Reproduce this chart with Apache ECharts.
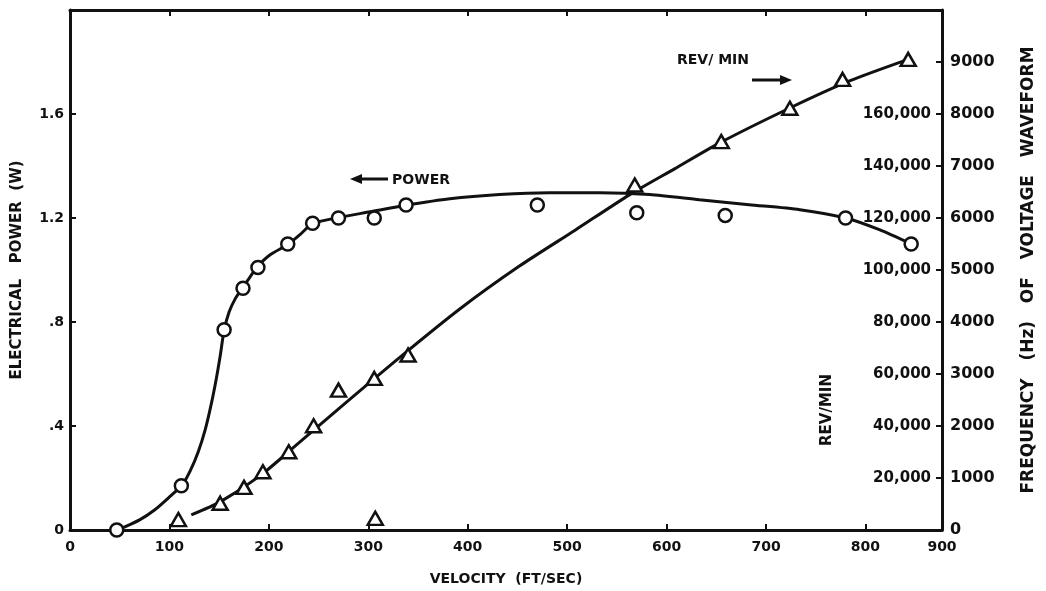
<!DOCTYPE html>
<html>
<head>
<meta charset="utf-8">
<script src="https://cdn.jsdelivr.net/npm/echarts@6/dist/echarts.min.js"></script>
<style>
  html, body { margin: 0; padding: 0; background: #ffffff; }
  #chart { width: 1046px; height: 591px; }
</style>
</head>
<body>
<div id="chart"></div>
<script>
// Measured electrical power (W) against air velocity (ft/sec) — circles
const powerVelocity = [47, 112, 155, 174, 189, 219, 244, 270, 306, 338, 470, 570, 659, 780, 846];
const powerWatts    = [0, 0.17, 0.77, 0.93, 1.01, 1.10, 1.18, 1.20, 1.20, 1.25, 1.25, 1.22, 1.21, 1.20, 1.10];

// Faired curve through the power measurements
const powerFitVelocity = [47, 55, 70, 85, 100, 113, 121, 129, 136, 142, 147, 151, 155, 160, 166, 174, 181, 189, 201, 219,
                          231, 244, 269, 302, 338, 382, 432, 482, 533, 583, 633, 683, 734, 780, 814, 846];
const powerFitWatts    = [0, 0.012, 0.039, 0.077, 0.127, 0.174, 0.228, 0.301, 0.386, 0.483, 0.579, 0.668, 0.768, 0.838, 0.888, 0.934, 0.973, 1.015, 1.058, 1.098,
                          1.135, 1.178, 1.201, 1.224, 1.249, 1.274, 1.290, 1.297, 1.297, 1.290, 1.270, 1.251, 1.232, 1.200, 1.155, 1.10];

// Measured rotor speed (rev/min) against velocity — triangles
const revVelocity = [109, 151, 175, 194, 220, 245, 270, 306, 307, 340, 568, 655, 724, 777, 843];
const revRpm      = [4000, 10300, 16400, 22400, 30100, 40100, 53800, 58300, 4500, 67300, 132700, 149400, 162200, 173300, 181000];

// Faired curve through the speed measurements
const revFitVelocity = [122, 151, 191, 231, 271, 332, 392, 452, 508, 563, 608, 653, 724, 784, 843];
const revFitRpm      = [5800, 10800, 20800, 33800, 46900, 66500, 85000, 101500, 115300, 129000, 138900, 148800, 162300, 172700, 181000];

// Axis ranges and tick labels
const velocityTicks = [0, 100, 200, 300, 400, 500, 600, 700, 800];
const velocityAxisEnd = 877;          // the frame closes here, labelled 900
const velocityEndLabel = '900';
const powerTicks = [0, 0.4, 0.8, 1.2, 1.6];
const powerTickLabels = ['0', '.4', '.8', '1.2', '1.6'];
const rpmTickLabels = [20000, 40000, 60000, 80000, 100000, 120000, 140000, 160000];
const hzTickLabels = [0, 1000, 2000, 3000, 4000, 5000, 6000, 7000, 8000, 9000];

const FONT = '"DejaVu Sans", "Liberation Sans", sans-serif';
const INK = '#111111';

const zip = (xs, ys) => xs.map((x, i) => [x, ys[i]]);
const withCommas = n => String(n).replace(/\B(?=(\d{3})+(?!\d))/g, ',');

const tickStyle = { show: true, inside: true, length: 6, lineStyle: { color: INK, width: 2 } };
const axisLineStyle = { show: true, onZero: false, lineStyle: { color: INK, width: 3 } };

const xAxisCommon = {
  type: 'value',
  min: 0,
  max: velocityAxisEnd,
  interval: 100,
  splitLine: { show: false },
  axisLine: axisLineStyle,
  axisTick: tickStyle
};

const chart = echarts.init(document.getElementById('chart'), null, { renderer: 'canvas' });

chart.setOption({
  animation: false,
  backgroundColor: '#ffffff',
  grid: { left: 70, right: 104, top: 10, bottom: 61 },
  xAxis: [
    Object.assign({}, xAxisCommon, {
      position: 'bottom',
      name: 'VELOCITY  (FT/SEC)',
      nameLocation: 'middle',
      nameGap: 42,
      nameTextStyle: { fontFamily: FONT, fontWeight: 'bold', fontSize: 14, color: INK },
      axisLabel: {
        margin: 10,
        fontFamily: FONT, fontWeight: 'bold', fontSize: 14, color: INK,
        formatter: v => (v >= velocityAxisEnd ? velocityEndLabel : (velocityTicks.includes(v) ? String(v) : ''))
      }
    }),
    Object.assign({}, xAxisCommon, {
      position: 'top',
      axisLabel: { show: false }
    })
  ],
  yAxis: [
    {
      type: 'value',
      position: 'left',
      min: 0, max: 2.0, interval: 0.4,
      name: 'ELECTRICAL   POWER  (W)',
      nameLocation: 'middle',
      nameGap: 45,
      nameTextStyle: { fontFamily: FONT, fontWeight: 'bold', fontSize: 15, color: INK },
      splitLine: { show: false },
      axisLine: axisLineStyle,
      axisTick: tickStyle,
      axisLabel: {
        margin: 6,
        fontFamily: FONT, fontWeight: 'bold', fontSize: 14, color: INK,
        formatter: v => {
          const i = powerTicks.findIndex(t => Math.abs(t - v) < 1e-6);
          return i >= 0 ? powerTickLabels[i] : '';
        }
      }
    },
    {
      type: 'value',
      position: 'right',
      min: 0, max: 200000, interval: 20000,
      splitLine: { show: false },
      axisLine: axisLineStyle,
      axisTick: tickStyle,
      axisLabel: {
        inside: true,
        margin: 11,
        fontFamily: FONT, fontWeight: 'bold', fontSize: 15, color: INK,
        formatter: v => (rpmTickLabels.includes(v) ? withCommas(v) : '')
      }
    },
    {
      type: 'value',
      position: 'right',
      min: 0, max: 10000, interval: 1000,
      name: 'FREQUENCY   (Hz)   OF   VOLTAGE   WAVEFORM',
      nameLocation: 'middle',
      nameGap: 78,
      nameTextStyle: { fontFamily: FONT, fontWeight: 'bold', fontSize: 17, color: INK },
      splitLine: { show: false },
      axisLine: { show: false, onZero: false },
      axisTick: { show: false },
      axisLabel: {
        margin: 8,
        fontFamily: FONT, fontWeight: 'bold', fontSize: 16, color: INK,
        formatter: v => (hzTickLabels.includes(v) ? String(v) : '')
      }
    }
  ],
  graphic: [
    { type: 'text', x: 713, y: 60, style: { text: 'REV/ MIN', align: 'center', verticalAlign: 'middle', font: 'bold 14px ' + FONT, fill: INK } },
    { type: 'line', shape: { x1: 752, y1: 80, x2: 782, y2: 80 }, style: { stroke: INK, lineWidth: 3 } },
    { type: 'polygon', shape: { points: [[792, 80], [780, 75], [780, 85]] }, style: { fill: INK } },
    { type: 'text', x: 421, y: 180, style: { text: 'POWER', align: 'center', verticalAlign: 'middle', font: 'bold 14px ' + FONT, fill: INK } },
    { type: 'line', shape: { x1: 360, y1: 179, x2: 388, y2: 179 }, style: { stroke: INK, lineWidth: 3 } },
    { type: 'polygon', shape: { points: [[350, 179], [362, 174], [362, 184]] }, style: { fill: INK } },
    { type: 'text', x: 827, y: 410, rotation: Math.PI / 2, style: { text: 'REV/MIN', align: 'center', verticalAlign: 'middle', font: 'bold 15px ' + FONT, fill: INK } }
  ],
  series: [
    {
      name: 'Power curve',
      type: 'line',
      xAxisIndex: 0, yAxisIndex: 0,
      data: zip(powerFitVelocity, powerFitWatts),
      smooth: 0.25,
      showSymbol: false, silent: true,
      lineStyle: { color: INK, width: 3 },
      z: 2
    },
    {
      name: 'Rev/min curve',
      type: 'line',
      xAxisIndex: 0, yAxisIndex: 1,
      data: zip(revFitVelocity, revFitRpm),
      smooth: 0.25,
      showSymbol: false, silent: true,
      lineStyle: { color: INK, width: 3 },
      z: 2
    },
    {
      name: 'Power',
      type: 'scatter',
      xAxisIndex: 0, yAxisIndex: 0,
      data: zip(powerVelocity, powerWatts),
      symbol: 'circle', symbolSize: 13,
      itemStyle: { color: '#ffffff', borderColor: INK, borderWidth: 2.5, opacity: 1 },
      z: 3
    },
    {
      name: 'Rev/min',
      type: 'scatter',
      xAxisIndex: 0, yAxisIndex: 1,
      data: zip(revVelocity, revRpm),
      symbol: 'triangle', symbolSize: [15, 13],
      itemStyle: { color: '#ffffff', borderColor: INK, borderWidth: 2.5, opacity: 1 },
      z: 3
    }
  ]
});
</script>
</body>
</html>
